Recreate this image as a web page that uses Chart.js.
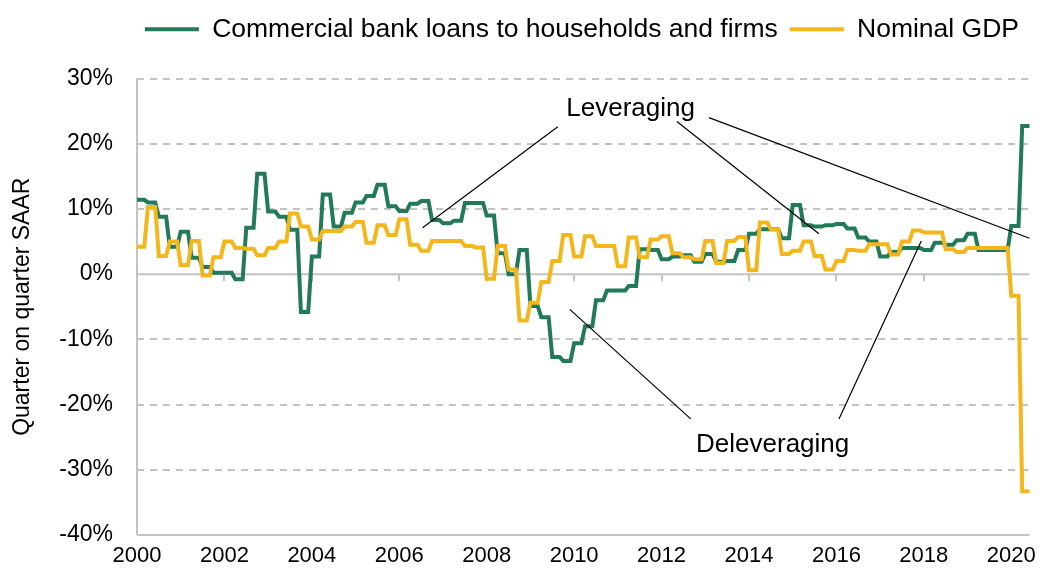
<!DOCTYPE html>
<html>
<head>
<meta charset="utf-8">
<script src="https://cdn.jsdelivr.net/npm/chart.js@4.4.1/dist/chart.umd.min.js"></script>
<style>
  html, body { margin: 0; padding: 0; background: #fff; }
  #wrap { width: 1044px; height: 577px; position: relative; }
</style>
</head>
<body>
<div id="wrap"><canvas id="chart"></canvas></div>
<script>
// quarter on quarter SAAR, monthly readings Jan 2000 - Jun 2020 (one row per year)
const loans = [
  11.4, 11.4, 11.4, 11.0, 11.0, 11.0, 8.8, 8.8, 8.8, 4.2, 4.2, 4.2,
  6.5, 6.5, 6.5, 2.5, 2.5, 2.5, 1.1, 1.1, 1.1, 0.2, 0.2, 0.2,
  0.2, 0.2, 0.2, -0.8, -0.8, -0.8, 7.1, 7.1, 7.1, 15.4, 15.4, 15.4,
  9.6, 9.6, 9.6, 8.8, 8.8, 8.8, 6.8, 6.8, 6.8, -5.8, -5.8, -5.8,
  2.7, 2.7, 2.7, 12.2, 12.2, 12.2, 7.3, 7.3, 7.3, 9.4, 9.4, 9.4,
  11.0, 11.0, 11.0, 12.0, 12.0, 12.0, 13.7, 13.7, 13.7, 10.4, 10.4, 10.4,
  9.7, 9.7, 9.7, 10.8, 10.8, 10.8, 11.2, 11.2, 11.2, 8.3, 8.3, 8.3,
  7.8, 7.8, 7.8, 8.2, 8.2, 8.2, 10.9, 10.9, 10.9, 10.9, 10.9, 10.9,
  9.0, 9.0, 9.0, 3.2, 3.2, 3.2, 0.0, 0.0, 0.0, 3.7, 3.7, 3.7,
  -4.9, -4.9, -4.9, -6.6, -6.6, -6.6, -12.7, -12.7, -12.7, -13.3, -13.3, -13.3,
  -10.6, -10.6, -10.6, -8.0, -8.0, -8.0, -4.0, -4.0, -4.0, -2.5, -2.5, -2.5,
  -2.5, -2.5, -2.5, -1.8, -1.8, -1.8, 3.8, 3.8, 3.8, 3.7, 3.7, 3.7,
  2.3, 2.3, 2.3, 2.7, 2.7, 2.7, 2.9, 2.9, 2.9, 1.9, 1.9, 1.9,
  3.1, 3.1, 3.1, 1.9, 1.9, 1.9, 2.0, 2.0, 2.0, 3.7, 3.7, 3.7,
  6.2, 6.2, 6.2, 6.9, 6.9, 6.9, 6.9, 6.9, 6.9, 5.5, 5.5, 5.5,
  10.6, 10.6, 10.6, 7.5, 7.5, 7.5, 7.3, 7.3, 7.3, 7.5, 7.5, 7.5,
  7.7, 7.7, 7.7, 7.0, 7.0, 7.0, 5.6, 5.6, 5.6, 5.0, 5.0, 5.0,
  2.7, 2.7, 2.7, 3.4, 3.4, 3.4, 4.0, 4.0, 4.0, 4.0, 4.0, 4.0,
  3.7, 3.7, 3.7, 4.8, 4.8, 4.8, 4.5, 4.5, 4.5, 5.2, 5.2, 5.2,
  6.2, 6.2, 6.2, 3.7, 3.7, 3.7, 3.7, 3.7, 3.7, 3.7, 3.7, 3.7,
  7.4, 7.4, 7.4, 22.7, 22.7, 22.7
];

const gdp = [
  4.2, 4.2, 4.2, 10.3, 10.3, 10.3, 2.8, 2.8, 2.8, 5.0, 5.0, 5.0,
  1.4, 1.4, 1.4, 5.1, 5.1, 5.1, -0.2, -0.2, -0.2, 2.6, 2.6, 2.6,
  5.0, 5.0, 5.0, 4.0, 4.0, 4.0, 3.9, 3.9, 3.9, 2.9, 2.9, 2.9,
  4.0, 4.0, 4.0, 5.0, 5.0, 5.0, 9.3, 9.3, 9.3, 7.3, 7.3, 7.3,
  5.3, 5.3, 5.3, 6.6, 6.6, 6.6, 6.6, 6.6, 6.6, 7.3, 7.3, 7.3,
  8.0, 8.0, 8.0, 4.8, 4.8, 4.8, 7.5, 7.5, 7.5, 6.0, 6.0, 6.0,
  8.4, 8.4, 8.4, 4.5, 4.5, 4.5, 3.6, 3.6, 3.6, 5.1, 5.1, 5.1,
  5.1, 5.1, 5.1, 5.1, 5.1, 5.1, 4.3, 4.3, 4.3, 4.1, 4.1, 4.1,
  -0.7, -0.7, -0.7, 4.3, 4.3, 4.3, 0.7, 0.7, 0.7, -7.1, -7.1, -7.1,
  -4.4, -4.4, -4.4, -1.2, -1.2, -1.2, 2.0, 2.0, 2.0, 6.0, 6.0, 6.0,
  2.7, 2.7, 2.7, 5.8, 5.8, 5.8, 4.3, 4.3, 4.3, 4.3, 4.3, 4.3,
  1.2, 1.2, 1.2, 5.6, 5.6, 5.6, 2.6, 2.6, 2.6, 5.3, 5.3, 5.3,
  5.8, 5.8, 5.8, 3.2, 3.2, 3.2, 2.6, 2.6, 2.6, 2.3, 2.3, 2.3,
  5.1, 5.1, 5.1, 1.7, 1.7, 1.7, 5.1, 5.1, 5.1, 5.7, 5.7, 5.7,
  0.6, 0.6, 0.6, 7.9, 7.9, 7.9, 6.9, 6.9, 6.9, 3.1, 3.1, 3.1,
  3.6, 3.6, 3.6, 5.0, 5.0, 5.0, 2.8, 2.8, 2.8, 0.7, 0.7, 0.7,
  2.0, 2.0, 2.0, 3.7, 3.7, 3.7, 3.6, 3.6, 3.6, 4.6, 4.6, 4.6,
  4.6, 4.6, 4.6, 3.0, 3.0, 3.0, 5.0, 5.0, 5.0, 6.7, 6.7, 6.7,
  6.4, 6.4, 6.4, 6.4, 6.4, 6.4, 3.8, 3.8, 3.8, 3.4, 3.4, 3.4,
  4.0, 4.0, 4.0, 4.0, 4.0, 4.0, 4.0, 4.0, 4.0, 4.0, 4.0, 4.0,
  -3.3, -3.3, -3.3, -33.3, -33.3, -33.3
];

const seriesNames = ['Commercial bank loans to households and firms', 'Nominal GDP'];
const firstYear = 2000;
const yearTicks = ['2000', '2002', '2004', '2006', '2008', '2010', '2012', '2014', '2016', '2018', '2020'];

// annotation texts and pointer lines, given as [month index, %]
const notes = [
  { text: 'Leveraging', at: [135.5, 25.4] },
  { text: 'Deleveraging', at: [174.5, -26.2] }
];
const pointers = [
  [[115.5, 22.6], [78.4, 7.1]],
  [[148.2, 23.4], [187.2, 6.2]],
  [[157.0, 24.0], [245.0, 5.5]],
  [[118.8, -5.4], [152.0, -22.2]],
  [[192.7, -22.2], [215.3, 5.1]]
];

// month labels for the category axis
const months = loans.map((v, i) => (firstYear + Math.floor(i / 12)) + '-' + String(i % 12 + 1).padStart(2, '0'));

const FONT = '"Liberation Sans", Arial, sans-serif';
const GRID = '#c3c3c3';

// solid zero line, axis lines and tick marks (Excel style)
const axisLines = {
  id: 'axisLines',
  beforeDatasetsDraw(chart) {
    const { ctx, chartArea: a, scales: { x, y } } = chart;
    ctx.save();
    ctx.strokeStyle = GRID;
    ctx.lineWidth = 2;
    const y0 = y.getPixelForValue(0);
    ctx.beginPath();
    ctx.moveTo(a.left, y0); ctx.lineTo(a.right, y0);
    ctx.moveTo(a.left, a.top); ctx.lineTo(a.left, a.bottom);
    ctx.moveTo(a.left, a.bottom); ctx.lineTo(a.right, a.bottom);
    for (let i = 0; i < months.length; i += 24) {
      const px = Math.round(x.getPixelForValue(i));
      ctx.moveTo(px, y0); ctx.lineTo(px, y0 + 7);
    }
    ctx.stroke();
    ctx.restore();
  }
};

const annotations = {
  id: 'annotations',
  afterDatasetsDraw(chart) {
    const { ctx, scales: { x, y } } = chart;
    ctx.save();
    ctx.strokeStyle = '#000';
    ctx.lineWidth = 1.2;
    pointers.forEach(([p, q]) => {
      ctx.beginPath();
      ctx.moveTo(x.getPixelForValue(p[0]), y.getPixelForValue(p[1]));
      ctx.lineTo(x.getPixelForValue(q[0]), y.getPixelForValue(q[1]));
      ctx.stroke();
    });
    ctx.fillStyle = '#000';
    ctx.font = '26px ' + FONT;
    ctx.textAlign = 'center';
    ctx.textBaseline = 'middle';
    notes.forEach(n => ctx.fillText(n.text, x.getPixelForValue(n.at[0]), y.getPixelForValue(n.at[1])));
    ctx.restore();
  }
};

// give the legend more room below it
const legendRoom = {
  id: 'legendRoom',
  beforeInit(chart) {
    const fit = chart.legend.fit;
    chart.legend.fit = function () {
      fit.bind(chart.legend)();
      this.height += 26;
    };
  }
};

new Chart(document.getElementById('chart'), {
  type: 'line',
  data: {
    labels: months,
    datasets: [
      {
        label: seriesNames[0],
        data: loans,
        borderColor: '#227a58',
        backgroundColor: '#227a58',
        borderWidth: 4,
        pointRadius: 0,
        order: 1
      },
      {
        label: seriesNames[1],
        data: gdp,
        borderColor: '#f4b71b',
        backgroundColor: '#f4b71b',
        borderWidth: 4,
        pointRadius: 0,
        order: 0
      }
    ]
  },
  options: {
    responsive: true,
    maintainAspectRatio: false,
    animation: false,
    layout: { padding: { top: 4, right: 13, left: 0, bottom: 0 } },
    plugins: {
      tooltip: { enabled: false },
      legend: {
        position: 'top',
        align: 'end',
        labels: {
          usePointStyle: true,
          pointStyle: 'line',
          pointStyleWidth: 54,
          boxHeight: 4,
          padding: 12,
          color: '#000',
          font: { family: FONT, size: 26.5 },
          sort: (a, b) => a.datasetIndex - b.datasetIndex
        }
      }
    },
    scales: {
      x: {
        type: 'category',
        grid: { display: false, drawTicks: false },
        border: { display: false },
        ticks: {
          autoSkip: false,
          maxRotation: 0,
          padding: 8,
          color: '#000',
          font: { family: FONT, size: 22 },
          callback: (v, i) => (i % 24 === 0 ? yearTicks[i / 24] : null)
        },
        afterFit: s => { s.height = 42; }
      },
      y: {
        min: -40,
        max: 30,
        grid: {
          drawTicks: false,
          lineWidth: 2,
          color: c => (c.tick.value === 0 || c.tick.value === -40 ? 'rgba(0,0,0,0)' : GRID)
        },
        border: { display: false, dash: [7, 6] },
        ticks: {
          stepSize: 10,
          padding: 24,
          color: '#000',
          font: { family: FONT, size: 23 },
          callback: v => v + '%'
        },
        title: {
          display: true,
          text: 'Quarter on quarter SAAR',
          color: '#000',
          font: { family: FONT, size: 23 },
          padding: { top: 9, bottom: 0 }
        },
        afterFit: s => { s.width = 137; }
      }
    }
  },
  plugins: [axisLines, annotations, legendRoom]
});
</script>
</body>
</html>
